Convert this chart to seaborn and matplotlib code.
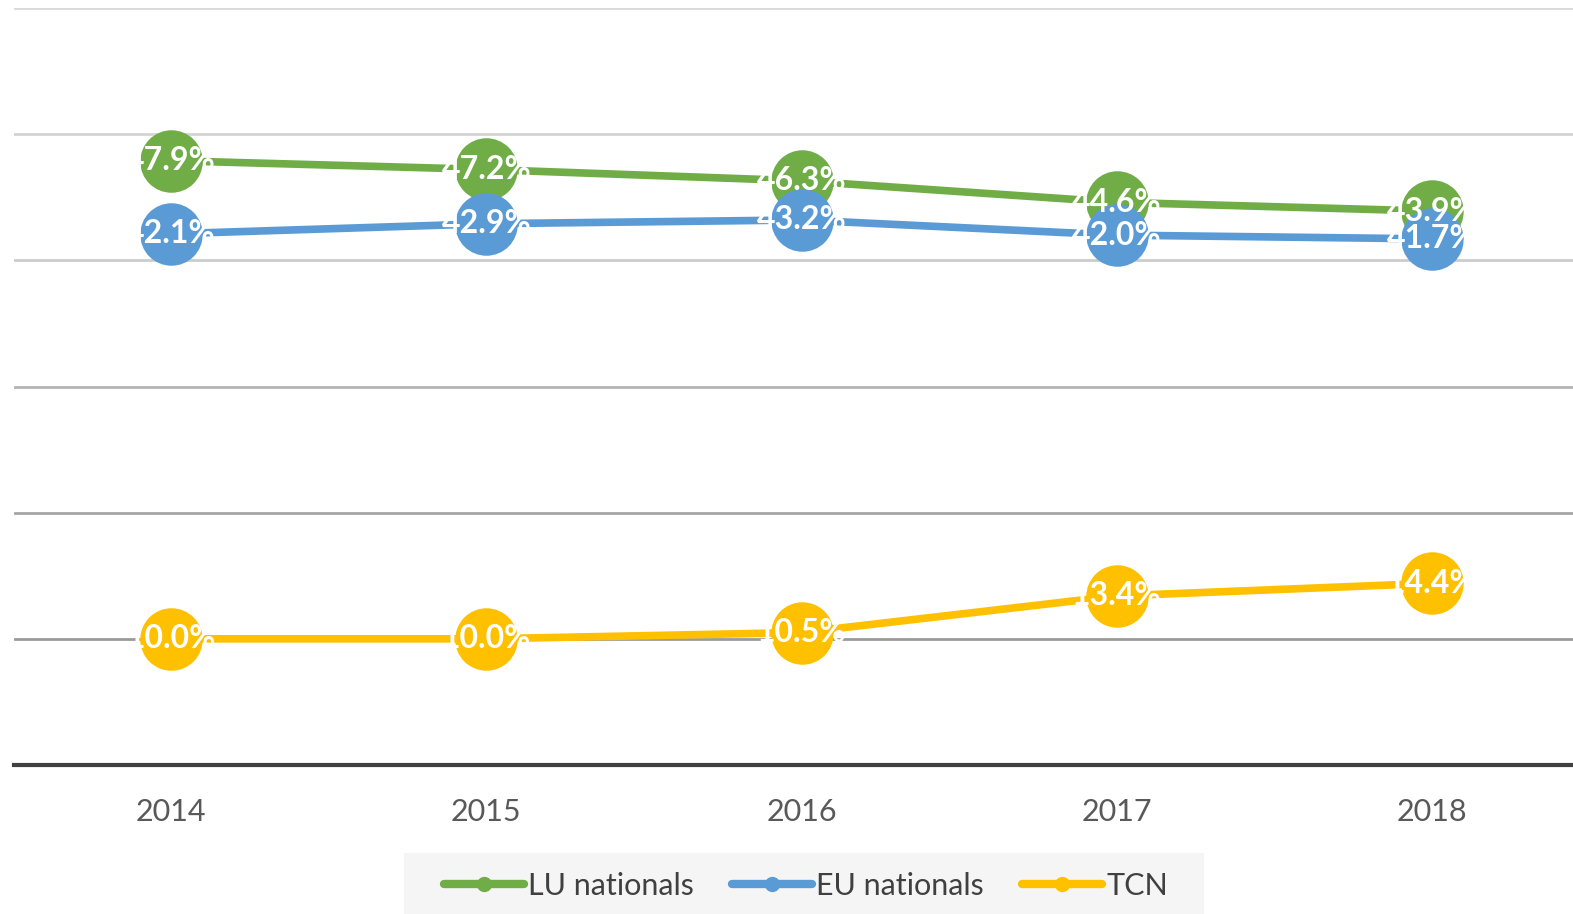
import numpy as np
import pandas as pd
import seaborn as sns
import matplotlib.pyplot as plt
from matplotlib.lines import Line2D
from matplotlib.patches import Rectangle

# Datos
years = [2014, 2015, 2016, 2017, 2018]
lu_nationals = [47.9, 47.2, 46.3, 44.6, 43.9]
eu_nationals = [42.1, 42.9, 43.2, 42.0, 41.7]
tcn = [10.0, 10.0, 10.5, 13.4, 14.4]
series_names = ["LU nationals", "EU nationals", "TCN"]
colors = ["#70ad47", "#5b9bd5", "#ffc000"]

data = pd.DataFrame({
    "Year": years * 3,
    "Value": lu_nationals + eu_nationals + tcn,
    "Series": [s for s in series_names for _ in years],
})

sns.set_theme(style="white")
plt.rcParams["font.family"] = ["Lato", "DejaVu Sans"]

W, H = 1573, 914
fig = plt.figure(figsize=(W / 100, H / 100), dpi=100)
ax = fig.add_axes([13.5 / W, 1 - 765 / H, 1576 / W, (765 - 8) / H])

for i, name in enumerate(series_names):
    sub = data[data["Series"] == name]
    sns.lineplot(data=sub, x="Year", y="Value", color=colors[i], linewidth=5.5,
                 marker="o", markersize=45, markeredgewidth=0, legend=False,
                 ax=ax, zorder=3 + i)

for i, name in enumerate(series_names):
    sub = data[data["Series"] == name]
    for x, y in zip(sub["Year"], sub["Value"]):
        ax.text(x, y, f"{y:.1f}%", color="white", fontsize=23, fontweight="bold",
                ha="center", va="center", zorder=10)

ax.set_xlim(2013.5, 2018.5)
ax.set_ylim(0, 60)
ax.set_yticks(np.arange(0, 61, 10))
ax.set_yticklabels([])
ax.set_xticks(years)
ax.set_xticklabels([str(y) for y in years], color="#595959", fontsize=22)
ax.tick_params(axis="x", length=0, pad=24)
ax.tick_params(axis="y", length=0)
ax.set_xlabel("")
ax.set_ylabel("")

ax.grid(axis="y", linewidth=2, zorder=0)
grid_colors = ["#ffffff", "#9a9a9a", "#a6a6a6", "#b4b4b4", "#cccccc", "#d4d4d4", "#d9d9d9"]
for gl, c in zip(ax.get_ygridlines(), grid_colors):
    gl.set_color(c)
ax.set_axisbelow(True)

for side in ["top", "right", "left"]:
    ax.spines[side].set_visible(False)
ax.spines["bottom"].set_color("#404040")
ax.spines["bottom"].set_linewidth(3)

# Caja gris de la leyenda
fig.patches.append(Rectangle((404 / W, 0), (1204 - 404) / W, 1 - 853 / H,
                             transform=fig.transFigure, facecolor="#f5f5f5",
                             edgecolor="none", zorder=0))

handles = [Line2D([0], [0], color=c, linewidth=6, marker="o", markersize=10,
                  solid_capstyle="round") for c in colors]
leg = fig.legend(handles, series_names, loc="center", bbox_to_anchor=(806 / W, 1 - 886 / H),
                 ncol=3, frameon=False, fontsize=22, handlelength=2.6, handletextpad=0.15,
                 columnspacing=1.25, borderpad=0, borderaxespad=0)
for t in leg.get_texts():
    t.set_color("#404040")

plt.savefig("out.png", dpi=100)
